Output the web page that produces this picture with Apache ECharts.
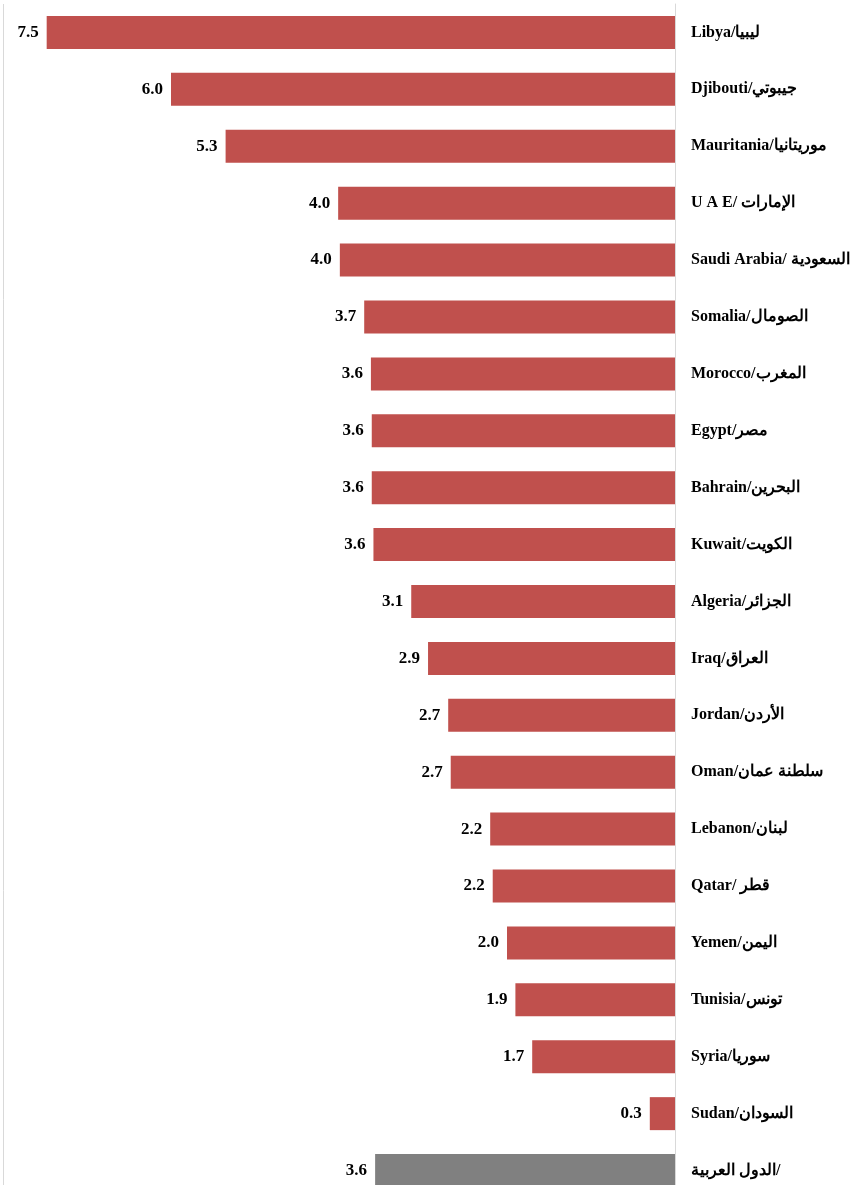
<!DOCTYPE html>
<html>
<head>
<meta charset="utf-8">
<style>
  html, body { margin: 0; padding: 0; background: #ffffff; }
  #chart { width: 854px; height: 1185px; }
</style>
<script src="https://cdn.jsdelivr.net/npm/echarts@6/dist/echarts.min.js"></script>
</head>
<body>
<div id="chart"></div>
<script>
// Category labels (English/Arabic), top to bottom
const categories = [
  'Libya/ليبيا',
  'Djibouti/جيبوتي',
  'Mauritania/موريتانيا',
  'U A E/ الإمارات',
  'Saudi Arabia/ السعودية',
  'Somalia/الصومال',
  'Morocco/المغرب',
  'Egypt/مصر',
  'Bahrain/البحرين',
  'Kuwait/الكويت',
  'Algeria/الجزائر',
  'Iraq/العراق',
  'Jordan/الأردن',
  'Oman/سلطنة عمان',
  'Lebanon/لبنان',
  'Qatar/ قطر',
  'Yemen/اليمن',
  'Tunisia/تونس',
  'Syria/سوريا',
  'Sudan/السودان',
  'الدول العربية/'
];

// Values per category
const values = [
  7.48, 6.00, 5.35, 4.01, 3.99, 3.70, 3.62, 3.61, 3.61, 3.59,
  3.14, 2.94, 2.70, 2.67, 2.20, 2.17, 2.00, 1.90, 1.70, 0.30,
  3.57
];

// The regional aggregate is the last entry
const aggregateIndex = categories.length - 1;

const COUNTRY_COLOR = '#C0504D';
const AGGREGATE_COLOR = '#808080';

const seriesData = values.map((v, i) => ({
  value: v,
  itemStyle: { color: i === aggregateIndex ? AGGREGATE_COLOR : COUNTRY_COLOR }
}));

const chart = echarts.init(document.getElementById('chart'), null, { renderer: 'canvas' });

chart.setOption({
  animation: false,
  backgroundColor: '#ffffff',
  grid: {
    left: 3,
    top: 4,
    width: 672,
    height: 1195,
    containLabel: false,
    outerBoundsMode: 'none'
  },
  xAxis: {
    type: 'value',
    min: 0,
    max: 8,
    interval: 8,
    inverse: true,
    axisLine: { show: false },
    axisTick: { show: false },
    axisLabel: { show: false },
    splitLine: { show: true, lineStyle: { color: '#d9d9d9', width: 1 } }
  },
  yAxis: {
    type: 'category',
    data: categories,
    inverse: true,
    position: 'right',
    axisLine: { show: true, lineStyle: { color: '#d9d9d9', width: 1 } },
    axisTick: { show: false },
    axisLabel: {
      margin: 16,
      align: 'left',
      color: '#000000',
      fontFamily: '"Liberation Serif", "Times New Roman", serif',
      fontWeight: 'bold',
      fontSize: 16
    }
  },
  series: [{
    type: 'bar',
    data: seriesData,
    barWidth: 33,
    label: {
      show: true,
      position: 'left',
      distance: 8,
      color: '#000000',
      fontFamily: '"Liberation Serif", "Times New Roman", serif',
      fontWeight: 'bold',
      fontSize: 17,
      formatter: p => p.value.toFixed(1)
    }
  }]
});
</script>
</body>
</html>
